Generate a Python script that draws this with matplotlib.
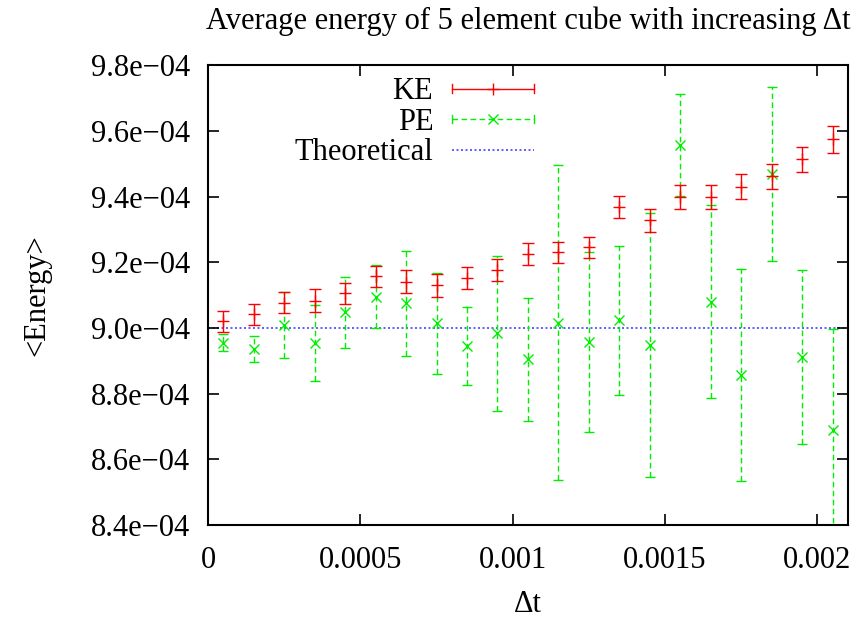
import numpy as np
import matplotlib
matplotlib.use("Agg")
import matplotlib.pyplot as plt
from matplotlib.lines import Line2D
from matplotlib.legend_handler import HandlerBase
from matplotlib.ticker import FuncFormatter, FixedLocator

# ---- data ----
dt = [0.00005, 0.00015, 0.00025, 0.00035, 0.00045, 0.00055, 0.00065,
      0.00075, 0.00085, 0.00095, 0.00105, 0.00115, 0.00125, 0.00135,
      0.00145, 0.00155, 0.00165, 0.00175, 0.00185, 0.00195, 0.00205]
ke = [9.020, 9.042, 9.077, 9.083, 9.105, 9.157, 9.141, 9.130, 9.152, 9.177,
      9.225, 9.230, 9.245, 9.369, 9.327, 9.398, 9.399, 9.430, 9.461, 9.513, 9.574]
ke_err = [0.032, 0.032, 0.032, 0.034, 0.033, 0.032, 0.034, 0.035, 0.033, 0.033,
          0.033, 0.033, 0.033, 0.034, 0.035, 0.036, 0.036, 0.037, 0.037, 0.037, 0.041]
pe = [8.955, 8.935, 9.009, 8.953, 9.047, 9.095, 9.075, 9.014, 8.945, 8.983,
      8.904, 9.016, 8.957, 9.023, 8.948, 9.557, 9.080, 8.856, 9.469, 8.912, 8.688]
pe_err = [0.025, 0.039, 0.100, 0.116, 0.109, 0.095, 0.159, 0.153, 0.118, 0.237,
          0.186, 0.480, 0.274, 0.226, 0.402, 0.156, 0.294, 0.323, 0.264, 0.265, 0.310]
unit = 1e-4
theoretical = 9.0e-4
x_ticks = [0, 0.0005, 0.001, 0.0015, 0.002]
x_ticklabels = ["0", "0.0005", "0.001", "0.0015", "0.002"]
y_ticks = [8.4e-4, 8.6e-4, 8.8e-4, 9.0e-4, 9.2e-4, 9.4e-4, 9.6e-4, 9.8e-4]

ke_v = np.array(ke) * unit
ke_e = np.array(ke_err) * unit
pe_v = np.array(pe) * unit
pe_e = np.array(pe_err) * unit

# ---- style ----
FONT = ["Liberation Serif", "DejaVu Serif"]
plt.rcParams["font.family"] = FONT
FS = 22
RED = "#ff0000"
GREEN = "#00ee00"
BLUE = "#4444ff"
DASH = (0, (4, 2.5))

fig = plt.figure(figsize=(8.67, 6.2), dpi=100)
ax = fig.add_axes([0.2399, 0.1532, 0.978 - 0.2399, 0.895 - 0.1532])

pe_cont = ax.errorbar(dt, pe_v, yerr=pe_e, fmt="none", ecolor=GREEN,
                      elinewidth=1.0, capsize=3.5, capthick=1.0, zorder=2)
for lc in pe_cont[2]:
    lc.set_linestyle(DASH)
ax.plot(dt, pe_v, linestyle="none", marker="x", color=GREEN, ms=7, mew=1.0, zorder=3)

ke_cont = ax.errorbar(dt, ke_v, yerr=ke_e, fmt="none", ecolor=RED,
                      elinewidth=1.0, capsize=4, capthick=1.0, zorder=4)
ax.plot(dt, ke_v, linestyle="none", marker="+", color=RED, ms=8, mew=1.0, zorder=5)

th_line = ax.axhline(theoretical, color=BLUE, linestyle=(0, (1.2, 1.5)), lw=1.2, zorder=1)

ax.set_xlim(0, 0.0021)
ax.set_ylim(8.4e-4, 9.8e-4)
ax.xaxis.set_major_locator(FixedLocator(x_ticks))
ax.set_xticklabels(x_ticklabels)
ax.yaxis.set_major_locator(FixedLocator(y_ticks))
ax.yaxis.set_major_formatter(FuncFormatter(lambda v, p: f"{v:.1e}".replace("-", "\u2212")))
ax.tick_params(direction="in", length=8, width=1.2, top=True, right=True,
               labelsize=FS, colors="black")
ax.tick_params(axis="x", pad=15)
ax.tick_params(axis="y", pad=13)
for s in ax.spines.values():
    s.set_linewidth(1.5)

ax.set_title("Average energy of 5 element cube with increasing \u0394t", fontsize=FS, pad=26)
ax.set_xlabel("\u0394t", fontsize=FS, labelpad=11)
ax.set_ylabel("<Energy>", fontsize=FS, labelpad=28)


class GPHandler(HandlerBase):
    def __init__(self, color, ls, marker, ms):
        super().__init__()
        self.color = color
        self.ls = ls
        self.marker = marker
        self.ms = ms

    def create_artists(self, legend, orig_handle, xdescent, ydescent,
                       width, height, fontsize, trans):
        y = height / 2 - ydescent
        x0 = -xdescent
        x1 = width - xdescent
        h = 3.0
        line = Line2D([x0, x1], [y, y], color=self.color, linestyle=self.ls, lw=1.0)
        c1 = Line2D([x0, x0], [y - h, y + h], color=self.color, lw=1.0)
        c2 = Line2D([x1, x1], [y - h, y + h], color=self.color, lw=1.0)
        mk = Line2D([(x0 + x1) / 2], [y], color=self.color, marker=self.marker,
                    ms=self.ms, mew=1.0, linestyle="none")
        arts = [line, c1, c2, mk]
        for a in arts:
            a.set_transform(trans)
        return arts


leg = ax.legend([ke_cont, pe_cont, th_line], ["KE", "PE", "Theoretical"],
                handler_map={ke_cont: GPHandler(RED, "-", "+", 8),
                             pe_cont: GPHandler(GREEN, DASH, "x", 7)},
                loc="upper left", bbox_to_anchor=(0.116, 1.0), frameon=False,
                markerfirst=False, fontsize=FS, handlelength=2.7,
                handletextpad=0.6, labelspacing=0.05, borderaxespad=0)

fig.savefig("out.png", dpi=100)
